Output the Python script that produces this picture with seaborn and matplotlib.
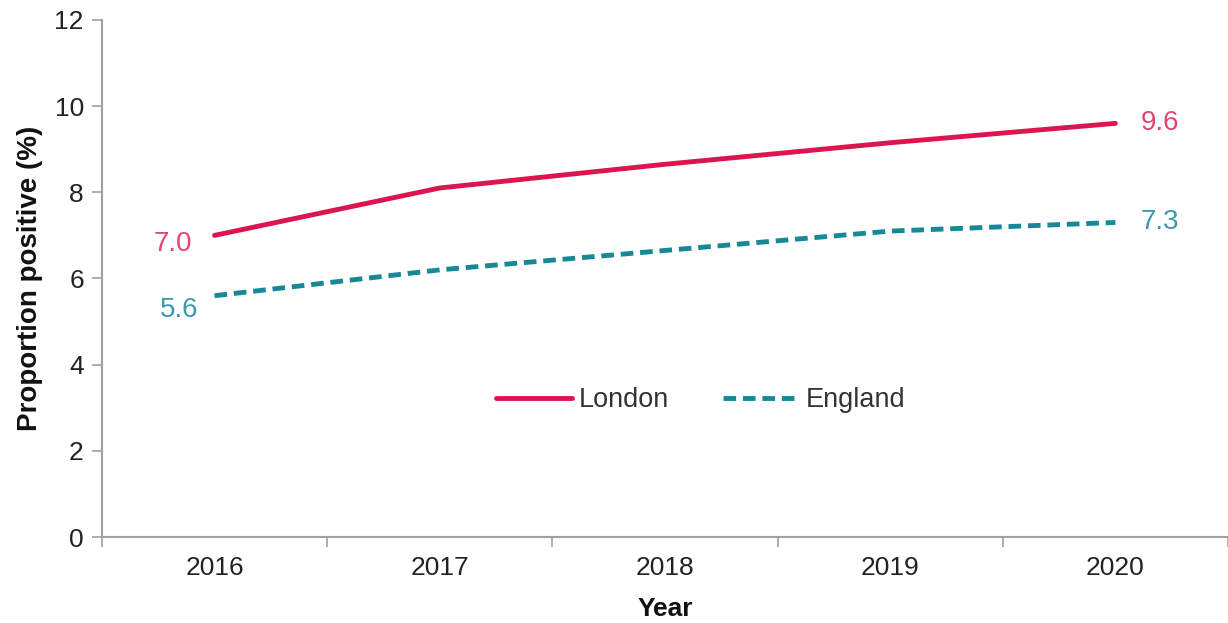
import matplotlib
matplotlib.use("Agg")
import matplotlib.pyplot as plt
import seaborn as sns
import pandas as pd

years = ["2016", "2017", "2018", "2019", "2020"]
london = [7.0, 8.1, 8.65, 9.15, 9.6]
england = [5.6, 6.2, 6.65, 7.1, 7.3]
series_names = ["London", "England"]
y_ticks = [0, 2, 4, 6, 8, 10, 12]

sns.set_theme(style="white")
plt.rcParams["font.family"] = ["Liberation Sans", "DejaVu Sans"]

c_lon = "#DC1450"
c_eng = "#178896"
c_lon_txt = "#E0476F"
c_eng_txt = "#3A9AAA"

df = pd.DataFrame({
    "Year": years * 2,
    "Value": london + england,
    "Series": [series_names[0]] * len(years) + [series_names[1]] * len(years),
})

fig = plt.figure(figsize=(12.28, 6.23), dpi=100)
ax = fig.add_axes([0.083, 0.138, 0.917, 0.83])

sns.lineplot(data=df, x="Year", y="Value", hue="Series", style="Series",
             palette={"London": c_lon, "England": c_eng},
             dashes={"London": "", "England": (2.6, 1.4)},
             linewidth=3.5, ax=ax, legend=True, sort=False)

ax.set_xlim(-0.5, 4.5)
ax.set_ylim(0, 12)
ax.set_yticks(y_ticks)
ax.set_xticks(range(len(years)))
ax.set_xticklabels(years)
ax.set_xticks([i - 0.5 for i in range(len(years) + 1)], minor=True)

for s in ["top", "right"]:
    ax.spines[s].set_visible(False)
for s in ["left", "bottom"]:
    ax.spines[s].set_color("#A0A0A0")
    ax.spines[s].set_linewidth(1.5)

ax.tick_params(axis="y", which="major", length=7, width=1.2, color="#A0A0A0",
               labelsize=19, labelcolor="#222222", left=True, pad=6)
ax.tick_params(axis="x", which="major", length=0, labelsize=19,
               labelcolor="#222222", pad=14)
ax.tick_params(axis="x", which="minor", length=7, width=1.2, color="#A0A0A0", bottom=True)

ax.set_xlabel("Year", fontsize=19, fontweight="bold", color="#111111", labelpad=12)
ax.set_ylabel("Proportion positive (%)", fontsize=20, fontweight="bold", color="#111111",
              labelpad=8)

# end labels
ax.annotate(f"{london[0]:.1f}", (0, london[0]), xytext=(-16, -6), textcoords="offset points",
            ha="right", va="center", fontsize=20, color=c_lon_txt)
ax.annotate(f"{london[-1]:.1f}", (4, london[-1]), xytext=(18, 0), textcoords="offset points",
            ha="left", va="center", fontsize=20, color=c_lon_txt)
ax.annotate(f"{england[0]:.1f}", (0, england[0]), xytext=(-12, -10), textcoords="offset points",
            ha="right", va="center", fontsize=20, color=c_eng_txt)
ax.annotate(f"{england[-1]:.1f}", (4, england[-1]), xytext=(18, 0), textcoords="offset points",
            ha="left", va="center", fontsize=20, color=c_eng_txt)

leg = ax.legend(loc="center", bbox_to_anchor=(0.532, 0.265), ncol=2, frameon=False,
                fontsize=19.5, handlelength=2.8, handletextpad=0.25, columnspacing=2.0)
for t in leg.get_texts():
    t.set_color("#333333")
for h in leg.get_lines():
    h.set_linewidth(3.5)

fig.savefig("out.png", dpi=100)
